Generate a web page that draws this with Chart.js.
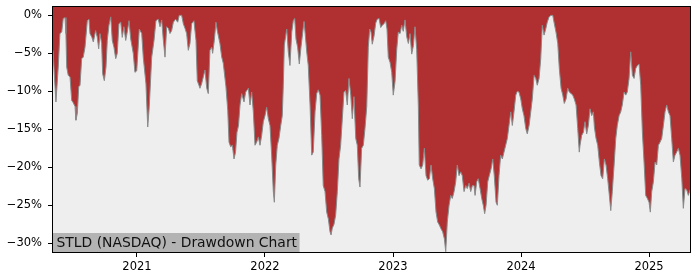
<!DOCTYPE html>
<html>
<head>
<meta charset="utf-8">
<script src="https://cdn.jsdelivr.net/npm/chart.js@4/dist/chart.umd.min.js"></script>
<style>
  html, body { margin: 0; padding: 0; background: #fff; }
  #wrap { width: 700px; height: 280px; }
</style>
</head>
<body>
<div id="wrap"><canvas id="dd" width="700" height="280"></canvas></div>
<script>
// ── Data (decimal years / drawdown in %) ─────────────────────────────
const years = [
  2020.344,2020.355,2020.367,2020.385,2020.398,2020.412,2020.424,2020.438,2020.445,2020.451,
  2020.463,2020.477,2020.490,2020.502,2020.516,2020.523,2020.534,2020.545,2020.555,2020.568,
  2020.580,2020.594,2020.612,2020.625,2020.633,2020.648,2020.659,2020.677,2020.690,2020.701,
  2020.711,2020.724,2020.732,2020.745,2020.758,2020.768,2020.781,2020.795,2020.807,2020.820,
  2020.834,2020.846,2020.859,2020.873,2020.885,2020.898,2020.912,2020.924,2020.938,2020.951,
  2020.971,2020.984,2020.998,2021.018,2021.037,2021.049,2021.070,2021.084,2021.096,2021.115,
  2021.133,2021.148,2021.166,2021.180,2021.193,2021.205,2021.219,2021.232,2021.245,2021.258,
  2021.271,2021.284,2021.302,2021.318,2021.330,2021.349,2021.362,2021.375,2021.388,2021.401,
  2021.414,2021.427,2021.445,2021.461,2021.471,2021.484,2021.492,2021.505,2021.518,2021.531,
  2021.545,2021.557,2021.570,2021.584,2021.591,2021.604,2021.617,2021.627,2021.648,2021.662,
  2021.674,2021.695,2021.709,2021.719,2021.732,2021.745,2021.758,2021.770,2021.781,2021.793,
  2021.805,2021.818,2021.836,2021.849,2021.870,2021.883,2021.896,2021.909,2021.922,2021.935,
  2021.948,2021.961,2021.974,2021.987,2022.000,2022.013,2022.026,2022.039,2022.052,2022.065,
  2022.073,2022.084,2022.096,2022.109,2022.123,2022.135,2022.143,2022.151,2022.170,2022.182,
  2022.195,2022.209,2022.221,2022.232,2022.242,2022.255,2022.268,2022.281,2022.295,2022.305,
  2022.315,2022.326,2022.338,2022.352,2022.365,2022.377,2022.391,2022.404,2022.416,2022.430,
  2022.443,2022.455,2022.469,2022.482,2022.495,2022.508,2022.516,2022.526,2022.539,2022.552,
  2022.565,2022.578,2022.591,2022.604,2022.617,2022.630,2022.643,2022.656,2022.670,2022.682,
  2022.695,2022.709,2022.721,2022.732,2022.742,2022.755,2022.768,2022.781,2022.795,2022.807,
  2022.818,2022.828,2022.838,2022.852,2022.865,2022.877,2022.891,2022.904,2022.916,2022.930,
  2022.943,2022.953,2022.963,2022.977,2022.990,2023.002,2023.016,2023.029,2023.041,2023.055,
  2023.068,2023.080,2023.094,2023.107,2023.120,2023.133,2023.146,2023.159,2023.172,2023.185,
  2023.198,2023.205,2023.219,2023.232,2023.245,2023.258,2023.271,2023.284,2023.297,2023.310,
  2023.323,2023.336,2023.349,2023.362,2023.375,2023.388,2023.401,2023.412,2023.424,2023.438,
  2023.451,2023.463,2023.477,2023.490,2023.502,2023.516,2023.529,2023.541,2023.555,2023.568,
  2023.580,2023.594,2023.607,2023.620,2023.633,2023.641,2023.654,2023.666,2023.680,2023.693,
  2023.705,2023.716,2023.727,2023.740,2023.752,2023.766,2023.779,2023.791,2023.805,2023.815,
  2023.828,2023.841,2023.854,2023.867,2023.880,2023.893,2023.906,2023.920,2023.932,2023.945,
  2023.959,2023.971,2023.984,2023.998,2024.010,2024.023,2024.037,2024.049,2024.063,2024.076,
  2024.088,2024.102,2024.115,2024.127,2024.141,2024.154,2024.166,2024.180,2024.193,2024.205,
  2024.219,2024.234,2024.248,2024.260,2024.273,2024.287,2024.299,2024.313,2024.326,2024.338,
  2024.352,2024.365,2024.377,2024.391,2024.404,2024.416,2024.430,2024.443,2024.455,2024.461,
  2024.474,2024.487,2024.500,2024.513,2024.526,2024.539,2024.552,2024.565,2024.573,2024.586,
  2024.599,2024.612,2024.625,2024.638,2024.651,2024.664,2024.677,2024.690,2024.701,2024.713,
  2024.727,2024.740,2024.752,2024.766,2024.779,2024.791,2024.805,2024.818,2024.830,2024.844,
  2024.857,2024.870,2024.883,2024.896,2024.909,2024.922,2024.935,2024.948,2024.961,2024.974,
  2024.987,2025.000,2025.010,2025.021,2025.034,2025.047,2025.060,2025.073,2025.086,2025.099,
  2025.112,2025.125,2025.138,2025.151,2025.164,2025.177,2025.190,2025.203,2025.216,2025.229,
  2025.242,2025.256,2025.268,2025.281,2025.295,2025.307,2025.320
];
const drawdown = [
  -4.6,-8.0,-11.4,-6.8,-2.4,-2.2,-0.4,-0.3,-2.4,-6.8,
  -7.9,-8.1,-11.2,-11.5,-12.0,-13.8,-12.9,-9.4,-9.2,-5.7,
  -5.5,-4.2,-0.7,-0.5,-2.4,-2.9,-3.5,-2.0,-2.9,-4.4,
  -2.4,-3.7,-7.7,-8.6,-6.8,-3.3,-1.3,-0.2,-3.3,-4.2,
  -5.7,-5.0,-1.1,-0.9,-2.9,-1.5,-3.3,-2.2,-0.7,-3.1,
  -5.0,-7.5,-7.3,-1.8,-2.4,-5.5,-9.0,-14.7,-12.0,-5.5,
  -3.3,-0.7,-0.5,-1.5,-0.6,-3.1,-5.5,-1.5,-1.7,-2.4,
  -2.0,-0.9,-0.5,-0.9,0,0,-1.1,-1.7,-2.4,-4.6,
  -3.7,-1.1,-0.7,-3.3,-8.6,-9.2,-9.6,-9.0,-8.1,-7.2,
  -9.6,-10.3,-4.6,-4.2,-5.0,-3.3,-0.9,-2.0,-3.7,-5.5,
  -6.3,-9.4,-12.5,-16.7,-17.3,-17.1,-18.9,-18.0,-15.4,-14.5,
  -11.8,-10.3,-11.4,-10.1,-9.6,-11.8,-10.1,-12.7,-17.1,-16.7,
  -16.0,-17.1,-15.8,-14.0,-13.2,-12.1,-13.6,-14.5,-18.4,-23.2,
  -24.6,-19.7,-17.1,-16.2,-14.5,-13.2,-9.2,-3.9,-1.8,-4.8,
  -6.6,-2.2,-0.7,-0.4,-3.1,-4.2,-6.4,-4.2,-2.2,-0.8,
  -2.6,-4.8,-6.6,-11.8,-18.4,-18.0,-12.7,-10.3,-9.8,-10.5,
  -15.8,-22.4,-23.2,-25.9,-26.8,-28.5,-28.9,-28.0,-27.5,-26.3,
  -23.2,-18.9,-17.1,-13.6,-10.1,-9.9,-11.8,-8.3,-10.5,-13.6,
  -10.7,-16.2,-17.1,-21.5,-22.6,-17.5,-17.1,-14.9,-12.0,-4.2,
  -1.8,-2.2,-3.8,-2.7,-1.0,-0.5,-0.4,-1.6,-1.3,-1.1,
  -0.7,-1.8,-5.5,-6.2,-7.5,-10.5,-8.7,-4.5,-2.2,-2.4,
  -1.3,-2.1,-0.6,-2.8,-3.7,-2.4,-5.1,-4.0,-1.5,-4.5,
  -12.0,-19.7,-20.2,-19.7,-17.5,-21.1,-21.7,-21.5,-19.7,-21.5,
  -22.8,-25.9,-27.2,-27.6,-28.1,-28.5,-29.4,-31.1,-27.2,-25.0,
  -23.7,-24.1,-23.2,-21.9,-19.7,-21.1,-20.6,-21.1,-23.2,-22.4,
  -22.8,-22.1,-23.2,-22.4,-22.4,-23.7,-21.9,-21.5,-22.8,-24.1,
  -25.0,-26.1,-25.0,-21.9,-21.1,-20.2,-18.9,-21.1,-24.6,-25.0,
  -21.1,-18.4,-18.9,-18.0,-17.1,-16.2,-14.5,-12.7,-14.5,-12.7,
  -10.5,-10.0,-10.1,-11.0,-12.3,-13.2,-14.9,-15.6,-14.5,-12.7,
  -11.0,-7.9,-8.3,-9.2,-8.3,-5.7,-1.3,-2.6,-1.8,-0.9,
  -0.2,0,0,-1.1,-2.2,-3.7,-7.0,-9.6,-10.5,-11.6,
  -11.0,-9.6,-10.1,-10.3,-10.5,-11.0,-11.8,-14.9,-18.0,-17.1,
  -15.8,-15.4,-14.0,-15.6,-14.5,-12.3,-13.2,-12.7,-14.7,-16.2,
  -17.1,-19.3,-21.1,-21.5,-18.9,-19.7,-21.5,-23.7,-25.7,-23.2,
  -19.7,-16.2,-14.5,-13.2,-12.7,-11.8,-10.1,-10.5,-10.1,-8.3,
  -4.8,-7.9,-8.3,-7.0,-6.6,-6.4,-9.2,-15.4,-19.3,-23.7,
  -24.1,-24.6,-25.9,-23.2,-21.9,-19.3,-19.7,-17.1,-16.7,-16.2,
  -14.5,-12.7,-11.8,-12.7,-13.2,-16.2,-19.3,-18.4,-18.0,-17.5,
  -18.4,-21.5,-25.4,-22.8,-23.0,-23.7,-23.0
];
const yTicks = [0, -5, -10, -15, -20, -25, -30];
const xTicks = [2021, 2022, 2023, 2024, 2025];
const chartTitle = 'STLD (NASDAQ) - Drawdown Chart';

// ── Styling ──────────────────────────────────────────────────────────
const FONT = 'DejaVu Sans';
const RED = '#b03031';
const PANEL = '#eeeeee';

// area background + frame + caption box
const panelPlugin = {
  id: 'panel',
  beforeDatasetsDraw(chart) {
    const { ctx, chartArea: a } = chart;
    ctx.save();
    ctx.fillStyle = PANEL;
    ctx.fillRect(a.left, a.top, a.right - a.left, a.bottom - a.top);
    ctx.restore();
  },
  afterDraw(chart) {
    const { ctx, chartArea: a } = chart;
    ctx.save();
    ctx.font = '13.9px "' + FONT + '"';
    const w = ctx.measureText(chartTitle).width + 6;
    ctx.fillStyle = '#b3b3b3';
    ctx.fillRect(a.left, a.bottom - 19, w, 19);
    ctx.fillStyle = '#111';
    ctx.textBaseline = 'alphabetic';
    ctx.fillText(chartTitle, a.left + 3.5, a.bottom - 4.8);
    ctx.strokeStyle = '#000';
    ctx.lineWidth = 1;
    ctx.strokeRect(a.left - 0.5, a.top - 0.5, a.right - a.left + 1, a.bottom - a.top + 1);
    ctx.restore();
  }
};

const points = years.map((x, i) => ({ x, y: drawdown[i] }));

new Chart(document.getElementById('dd'), {
  type: 'line',
  data: {
    datasets: [{
      data: points,
      borderColor: '#8a8a8a',
      borderWidth: 1,
      backgroundColor: RED,
      fill: 'end',
      pointRadius: 0,
      tension: 0,
    }]
  },
  options: {
    responsive: false,
    animation: false,
    devicePixelRatio: 1,
    layout: { padding: { top: 7, right: 10, left: 0, bottom: 0 } },
    plugins: { legend: { display: false }, tooltip: { enabled: false } },
    scales: {
      x: {
        type: 'linear',
        min: 2020.344, max: 2025.320,
        afterBuildTicks: s => { s.ticks = xTicks.map(v => ({ value: v })); },
        afterFit: s => { s.height = 28; },
        ticks: { color: '#000', font: { family: FONT, size: 11.5 }, padding: 3, maxRotation: 0,
          callback: v => String(v) },
        grid: { drawOnChartArea: false, drawTicks: true, tickLength: 5, tickColor: '#000' },
        border: { color: '#000', width: 1 },
      },
      y: {
        min: -31.15, max: 1.1,
        afterBuildTicks: s => { s.ticks = yTicks.map(v => ({ value: v })); },
        afterFit: s => { s.width = 53; s.paddingTop = 0; s.paddingBottom = 0; },
        ticks: { color: '#000', font: { family: FONT, size: 11.5 }, padding: 6,
          callback: v => (v < 0 ? '\u2212' : '') + Math.abs(v) + '%' },
        grid: { drawOnChartArea: false, drawTicks: true, tickLength: 5, tickColor: '#000' },
        border: { color: '#000', width: 1 },
      }
    }
  },
  plugins: [panelPlugin]
});
</script>
</body>
</html>
